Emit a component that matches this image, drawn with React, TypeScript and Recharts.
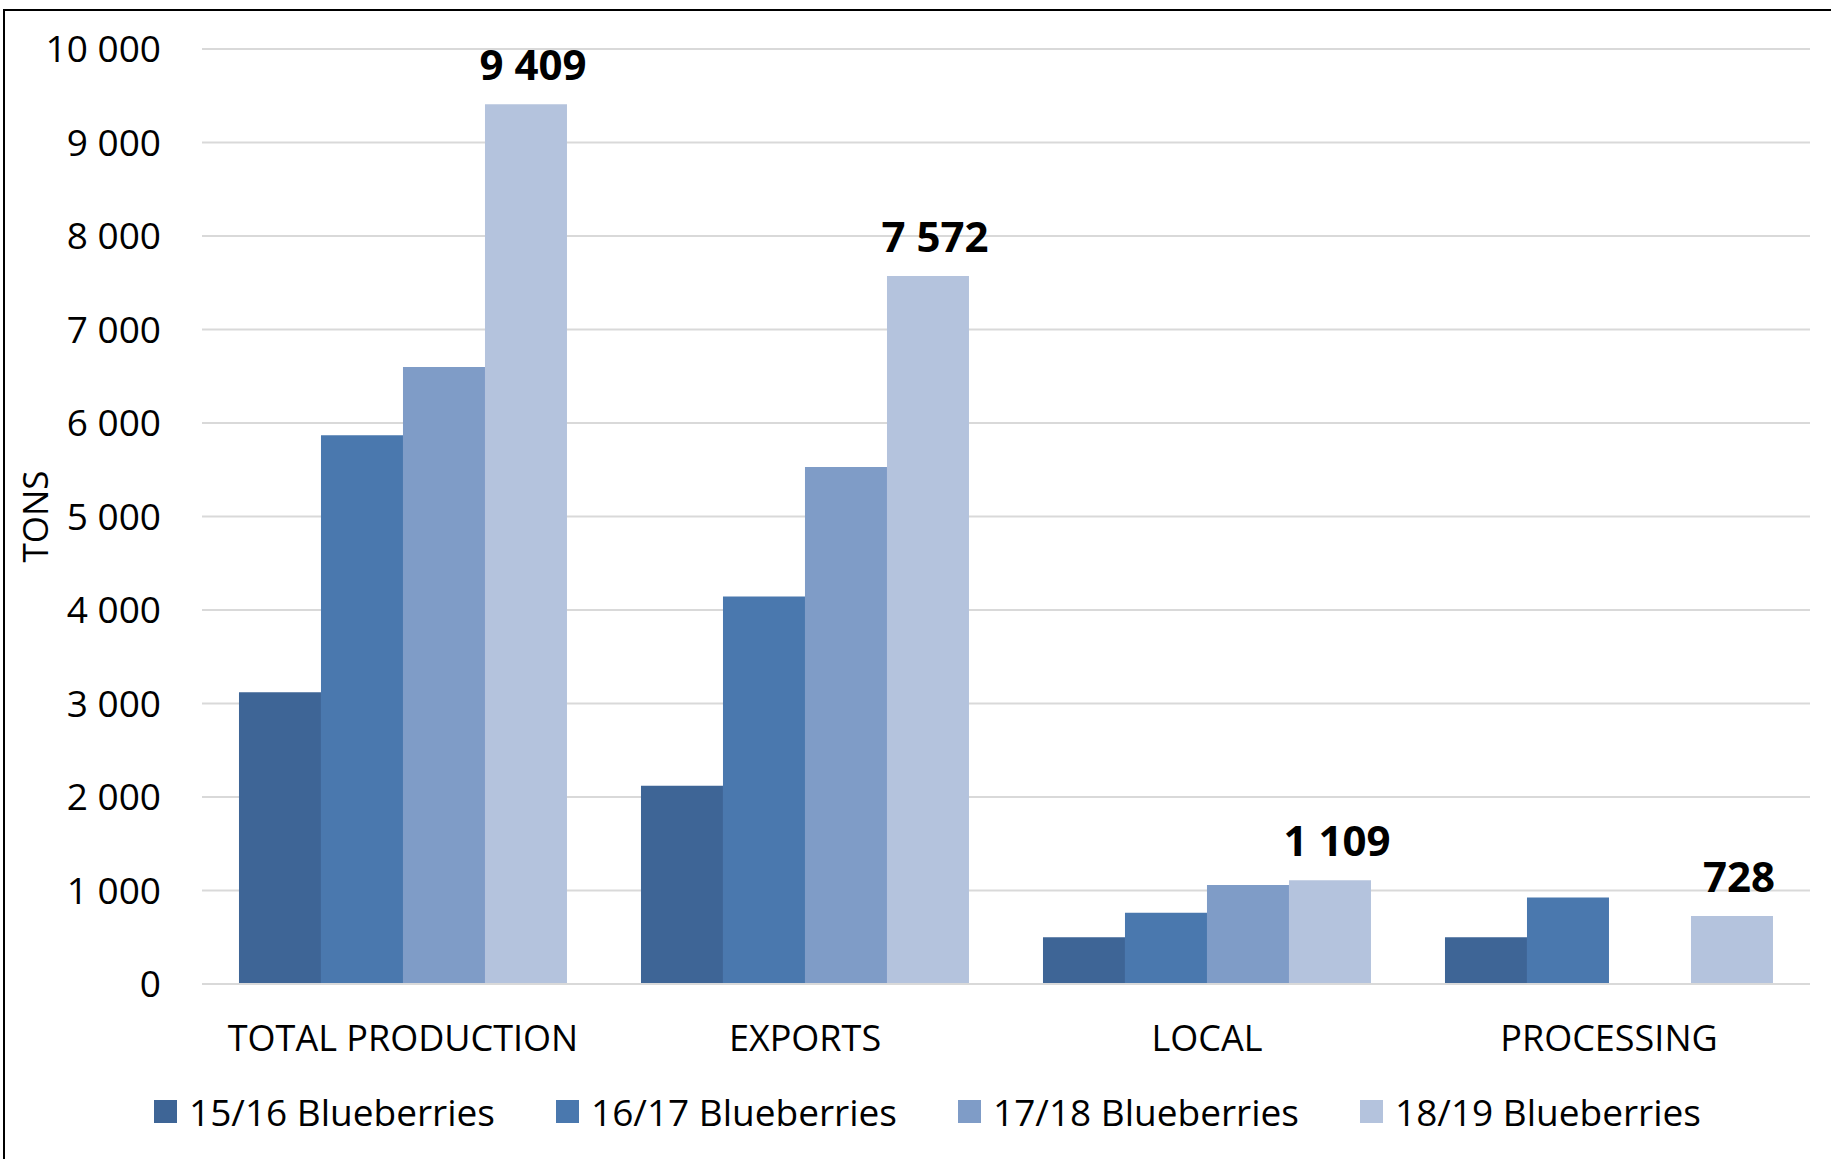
import React from 'react';
import { BarChart, Bar, XAxis, YAxis, CartesianGrid, Legend, LabelList } from 'recharts';

// Blueberry volumes (tons) per category and season
const categories = ['TOTAL PRODUCTION', 'EXPORTS', 'LOCAL', 'PROCESSING'];
const season1516 = [3120, 2120, 500, 500];
const season1617 = [5870, 4145, 762, 924];
const season1718 = [6600, 5530, 1060, null];
const season1819 = [9409, 7572, 1109, 728];
const seriesNames = ['15/16 Blueberries', '16/17 Blueberries', '17/18 Blueberries', '18/19 Blueberries'];
const seriesColors = ['#3e6596', '#4a78ae', '#7f9cc7', '#b4c3dd'];
const yTicks = [0, 1000, 2000, 3000, 4000, 5000, 6000, 7000, 8000, 9000, 10000];

const data = categories.map((name, i) => ({
  name,
  s1: season1516[i],
  s2: season1617[i],
  s3: season1718[i],
  s4: season1819[i],
}));

const fmt = (v: number | string) => String(v).replace(/\B(?=(\d{3})+(?!\d))/g, ' ');

const FONT = '"Open Sans", sans-serif';

const renderLegend = (props: any) => {
  const { payload = [] } = props;
  return (
    <div style={{ display: 'flex', fontFamily: FONT, fontSize: 37, color: '#000' }}>
      {payload.map((p: any) => (
        <div key={p.value} style={{ width: 402, display: 'flex', alignItems: 'center' }}>
          <span style={{ width: 23, height: 23, background: p.color, marginRight: 12, display: 'inline-block' }} />
          <span>{p.value}</span>
        </div>
      ))}
    </div>
  );
};

export default function App() {
  return (
    <div style={{ position: 'absolute', left: 0, top: 0, width: 1831, height: 1159, overflow: 'hidden', background: '#fff' }}>
      <div
        style={{
          position: 'absolute',
          left: 3,
          top: 9,
          width: 1900,
          height: 1300,
          borderTop: '2px solid #000',
          borderLeft: '2px solid #000',
        }}
      />
      <BarChart
        width={1831}
        height={1159}
        data={data}
        margin={{ top: 49, right: 21, left: 1, bottom: 95 }}
        barGap={0}
        barCategoryGap="9.2%"
        style={{ fontFamily: FONT }}
      >
        <CartesianGrid vertical={false} stroke="#d9d9d9" strokeWidth={2} />
        <XAxis
          dataKey="name"
          height={80}
          tickLine={false}
          axisLine={{ stroke: '#d9d9d9', strokeWidth: 2 }}
          tickSize={0}
          tickMargin={41}
          tick={{ fill: '#000', fontSize: 36 }}
          interval={0}
        />
        <YAxis
          width={201}
          domain={[0, 10000]}
          ticks={yTicks}
          interval={0}
          tickLine={false}
          axisLine={false}
          tickSize={0}
          tickMargin={41}
          tickFormatter={fmt}
          tick={{ fill: '#000', fontSize: 37 }}
          label={{ value: 'TONS', angle: -90, position: 'center', dx: -66, style: { fill: '#000', fontSize: 35 } }}
        />
        <Legend
          verticalAlign="middle"
          align="center"
          content={renderLegend}
          wrapperStyle={{ top: 1086, left: 154, width: 1650, height: 48 }}
        />
        <Bar dataKey="s1" name={seriesNames[0]} fill={seriesColors[0]} isAnimationActive={false} />
        <Bar dataKey="s2" name={seriesNames[1]} fill={seriesColors[1]} isAnimationActive={false} />
        <Bar dataKey="s3" name={seriesNames[2]} fill={seriesColors[2]} isAnimationActive={false} />
        <Bar dataKey="s4" name={seriesNames[3]} fill={seriesColors[3]} isAnimationActive={false}>
          <LabelList
            dataKey="s4"
            position="top"
            offset={24}
            dx={7}
            formatter={fmt}
            style={{ fill: '#000', fontSize: 42, fontWeight: 700 }}
          />
        </Bar>
      </BarChart>
    </div>
  );
}
